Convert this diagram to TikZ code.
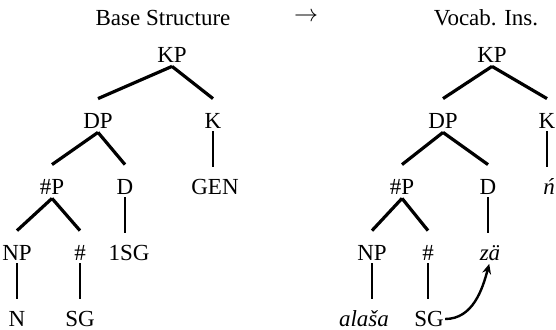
\documentclass[tikz,border=0pt]{standalone}
\usepackage{fontspec}
\setmainfont{Liberation Serif}
\usetikzlibrary{arrows.meta, positioning}

\begin{document}
\begin{tikzpicture}[node distance=33pt, >={Stealth[length=5pt, width=4.5pt]},
    font=\fontsize{11.5}{13}\selectfont,
    every node/.style={inner sep=0pt, text height=7.6pt, text depth=0pt},
    branch/.style={line width=1.6pt},
    stem/.style={line width=1.2pt}]
    \useasboundingbox (0,0) rectangle (278pt,-165pt);

    % Headings
    \node (base) at (81.5pt,-9pt) {Base Structure};
    \node (to) at (153pt,-7pt) {$\rightarrow$};
    \node (vocab) at (243pt,-9pt) {Vocab. Ins.};

    % Tree for Base Structure
    \node (KP) at (86pt,-27.5pt) {KP};
    \node (DP) [below of=KP, xshift=-37pt] {DP};
    \node (K) [below of=KP, xshift=20.5pt] {K};
    \node (NumP) [below of=DP, xshift=-23pt] {\#P};
    \node (D) [below of=DP, xshift=13.5pt] {D};
    \node (Kx) [below of=K, xshift=1pt] {GEN};
    \node (NP) [below of=NumP, xshift=-17.5pt] {NP};
    \node (Num) [below of=NumP, xshift=14pt] {\#};
    \node (Dx) [below of=D, xshift=2pt] {1SG};
    \node (NPx) [below of=NP] {N};
    \node (Numx) [below of=Num] {SG};

    \draw [branch] ([yshift=-1.7pt]KP.south) -- ([yshift=7.2pt]DP.north);
    \draw [branch] ([yshift=-1.7pt]KP.south) -- ([yshift=7.2pt]K.north);
    \draw [branch] ([yshift=-1.7pt]DP.south) -- ([yshift=7.2pt]NumP.north);
    \draw [branch] ([yshift=-1.7pt]DP.south) -- ([yshift=7.2pt]D.north);
    \draw [branch] ([yshift=-1.7pt]NumP.south) -- ([yshift=7.2pt]NP.north);
    \draw [branch] ([yshift=-1.7pt]NumP.south) -- ([yshift=7.2pt]Num.north);
    \draw [stem] ([yshift=-1.2pt]K.south) -- ([yshift=6.2pt]K.south |- Kx.north);
    \draw [stem] ([yshift=-1.2pt]D.south) -- ([yshift=6.2pt]D.south |- Dx.north);
    \draw [stem] ([yshift=-1.2pt]NP.south) -- ([yshift=6.2pt]NPx.north);
    \draw [stem] ([yshift=-1.2pt]Num.south) -- ([yshift=6.2pt]Numx.north);

    % Tree for Vocab. Ins.
    \begin{scope}[xshift=160pt]
        \node (KP) at (86pt,-27.5pt) {KP};
        \node (DP) [below of=KP, xshift=-24.5pt] {DP};
        \node (K) [below of=KP, xshift=27.5pt] {K};
        \node (NumP) [below of=DP, xshift=-20.5pt] {\#P};
        \node (D) [below of=DP, xshift=22.5pt] {D};
        \node (Kx) [below of=K, xshift=1pt] {\textit{ń}};
        \node (NP) [below of=NumP, xshift=-15pt] {NP};
        \node (Num) [below of=NumP, xshift=13pt] {\#};
        \node (Dx) [below of=D, xshift=1pt] {\textit{zä}};
        \node (NPx) [below of=NP, xshift=-4pt] {\textit{alaša}};
        \node (Numx) [below of=Num, xshift=0.5pt] {SG};

        \draw [branch] ([yshift=-1.7pt]KP.south) -- ([yshift=7.2pt]DP.north);
        \draw [branch] ([yshift=-1.7pt]KP.south) -- ([yshift=7.2pt]K.north);
        \draw [branch] ([yshift=-1.7pt]DP.south) -- ([yshift=7.2pt]NumP.north);
        \draw [branch] ([yshift=-1.7pt]DP.south) -- ([yshift=7.2pt]D.north);
        \draw [branch] ([yshift=-1.7pt]NumP.south) -- ([yshift=7.2pt]NP.north);
        \draw [branch] ([yshift=-1.7pt]NumP.south) -- ([yshift=7.2pt]Num.north);
        \draw [stem] ([yshift=-1.2pt]K.south) -- ([yshift=6.2pt]K.south |- Kx.north);
        \draw [stem] ([yshift=-1.2pt]D.south) -- ([yshift=6.2pt]D.south |- Dx.north);
        \draw [stem] ([yshift=-1.2pt]NP.south) -- ([yshift=6.2pt]NP.south |- NPx.north);
        \draw [stem] ([yshift=-1.2pt]Num.south) -- ([yshift=6.2pt]Num.south |- Numx.north);

        \draw [->, line width=1.2pt, shorten <=0.5pt, shorten >=1.5pt]
            (Numx.east) to[out=0, in=-105] (Dx.south);
    \end{scope}
\end{tikzpicture}
\end{document}
